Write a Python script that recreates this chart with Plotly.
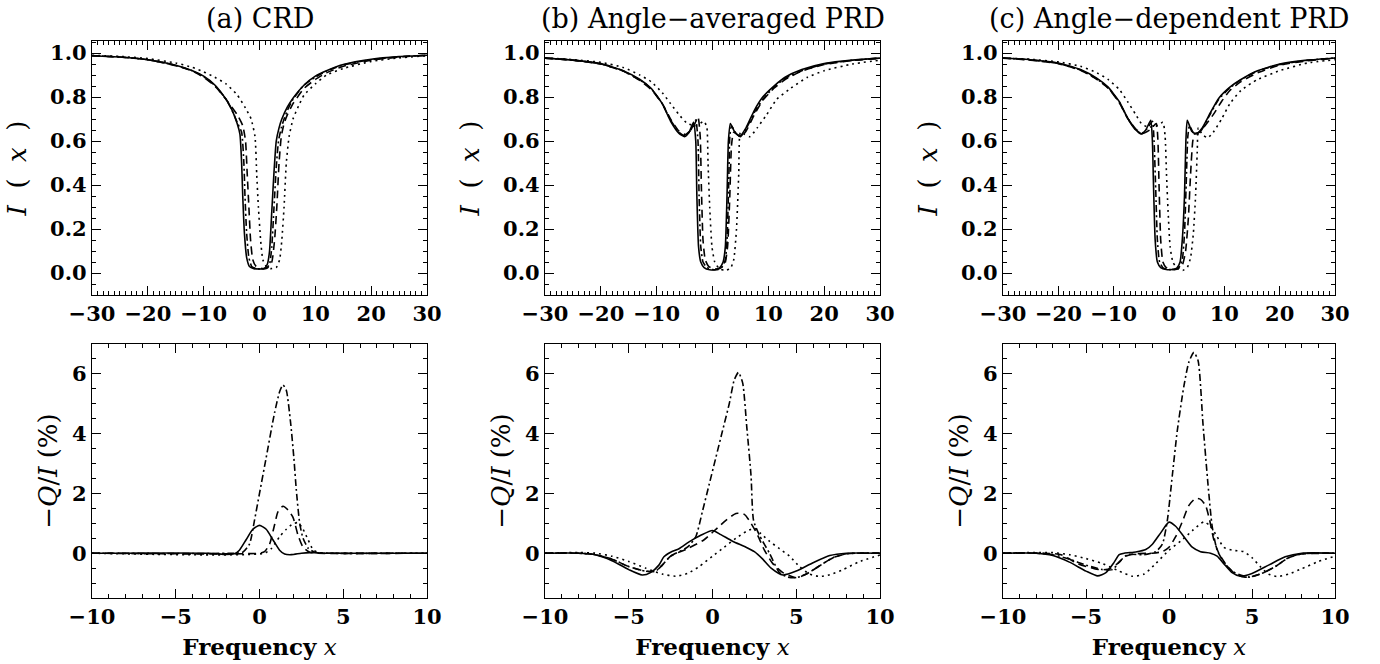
import plotly.graph_objects as go

# ---- panel titles / labels ----
PANEL_TITLES = ["(a) CRD", "(b) Angle\u2212averaged PRD", "(c) Angle\u2212dependent PRD"]

# ---- I(x) profiles, (x, I) pairs ----
CRD_I_SOLID = [(-30, 0.988), (-25, 0.982), (-20, 0.97), (-15, 0.945), (-12, 0.92), (-10, 0.895), (-8, 0.855),
               (-6, 0.79), (-5, 0.745), (-4, 0.68), (-3.5, 0.63), (-3.2, 0.5), (-3.0, 0.35), (-2.7, 0.18),
               (-2.3, 0.07), (-1.8, 0.03), (-1, 0.02), (0, 0.018), (0.8, 0.02), (1.4, 0.04), (1.8, 0.1),
               (2.2, 0.28), (2.6, 0.46), (3.0, 0.6), (3.5, 0.66), (4, 0.7), (5, 0.755), (6, 0.795), (8, 0.855),
               (10, 0.895), (12, 0.92), (15, 0.948), (20, 0.972), (25, 0.984), (30, 0.99)]
CRD_I_DASHDOT = [(-30, 0.988), (-25, 0.982), (-20, 0.97), (-15, 0.944), (-12, 0.919), (-10, 0.893), (-8, 0.853),
                 (-6, 0.79), (-5, 0.745), (-4, 0.685), (-3.2, 0.64), (-2.8, 0.5), (-2.6, 0.35), (-2.3, 0.18),
                 (-1.9, 0.07), (-1.4, 0.03), (-0.6, 0.02), (0.4, 0.018), (1.2, 0.02), (1.8, 0.04), (2.2, 0.12),
                 (2.6, 0.3), (3.0, 0.48), (3.4, 0.6), (3.9, 0.66), (4.4, 0.7), (5, 0.74), (6, 0.79), (8, 0.855),
                 (10, 0.89), (12, 0.918), (15, 0.946), (20, 0.97), (25, 0.983), (30, 0.99)]
CRD_I_DASHED = [(-30, 0.988), (-25, 0.982), (-20, 0.97), (-15, 0.943), (-12, 0.918), (-10, 0.89), (-8, 0.85),
                (-6, 0.79), (-4, 0.72), (-3, 0.67), (-2.5, 0.6), (-2.2, 0.45), (-1.9, 0.3), (-1.6, 0.15),
                (-1.2, 0.06), (-0.6, 0.03), (0.5, 0.02), (1.5, 0.025), (2.2, 0.05), (2.7, 0.15), (3.1, 0.3),
                (3.5, 0.5), (3.9, 0.62), (4.4, 0.68), (5, 0.72), (6, 0.77), (8, 0.84), (10, 0.88), (12, 0.91),
                (15, 0.94), (20, 0.968), (25, 0.982), (30, 0.99)]
CRD_I_DOTTED = [(-30, 0.99), (-25, 0.985), (-20, 0.975), (-15, 0.955), (-12, 0.935), (-10, 0.915), (-8, 0.89),
                (-6, 0.86), (-4, 0.81), (-2.5, 0.75), (-1.5, 0.7), (-0.8, 0.62), (-0.5, 0.45), (-0.2, 0.3),
                (0.2, 0.15), (0.6, 0.06), (1.2, 0.03), (2, 0.02), (3, 0.025), (3.6, 0.06), (4, 0.15), (4.4, 0.3),
                (4.8, 0.5), (5.3, 0.62), (6, 0.7), (7, 0.76), (8, 0.81), (10, 0.86), (12, 0.9), (15, 0.93),
                (20, 0.962), (25, 0.978), (30, 0.988)]

AA_I_SOLID = [(-30, 0.977), (-25, 0.968), (-20, 0.952), (-16, 0.92), (-13, 0.88), (-11, 0.84), (-9, 0.77),
              (-7.5, 0.69), (-6, 0.635), (-5, 0.62), (-4.2, 0.64), (-3.4, 0.685), (-3.0, 0.6), (-2.8, 0.35),
              (-2.5, 0.12), (-2.1, 0.05), (-1.5, 0.025), (-0.5, 0.015), (0.5, 0.015), (1.3, 0.025), (1.9, 0.05),
              (2.3, 0.12), (2.6, 0.35), (2.85, 0.6), (3.2, 0.68), (4, 0.64), (4.9, 0.622), (6, 0.66), (7.5, 0.74),
              (9, 0.8), (11, 0.85), (13, 0.89), (16, 0.925), (20, 0.952), (25, 0.968), (30, 0.977)]
AA_I_DASHDOT = [(-30, 0.977), (-25, 0.968), (-20, 0.951), (-16, 0.919), (-13, 0.878), (-11, 0.838), (-9, 0.77),
                (-7.5, 0.695), (-6, 0.64), (-5, 0.625), (-4, 0.645), (-3, 0.695), (-2.6, 0.6), (-2.4, 0.35),
                (-2.1, 0.12), (-1.7, 0.05), (-1, 0.025), (0, 0.016), (1, 0.016), (1.8, 0.03), (2.3, 0.06),
                (2.6, 0.15), (2.9, 0.4), (3.1, 0.62), (3.4, 0.67), (4.2, 0.635), (5, 0.62), (6, 0.655), (7.5, 0.73),
                (9, 0.79), (11, 0.845), (13, 0.885), (16, 0.92), (20, 0.95), (25, 0.967), (30, 0.977)]
AA_I_DASHED = [(-30, 0.977), (-25, 0.968), (-20, 0.95), (-16, 0.918), (-13, 0.875), (-11, 0.835), (-9, 0.77),
               (-7.5, 0.7), (-6, 0.645), (-4.8, 0.63), (-3.5, 0.66), (-2.6, 0.71), (-2.2, 0.62), (-2.0, 0.4),
               (-1.7, 0.15), (-1.3, 0.06), (-0.7, 0.03), (0.3, 0.018), (1.3, 0.02), (2.2, 0.04), (2.7, 0.12),
               (3.1, 0.35), (3.4, 0.58), (3.8, 0.64), (5, 0.62), (6, 0.645), (7.5, 0.72), (9, 0.785), (11, 0.84),
               (13, 0.88), (16, 0.918), (20, 0.948), (25, 0.966), (30, 0.976)]
AA_I_DOTTED = [(-30, 0.978), (-25, 0.97), (-20, 0.958), (-16, 0.935), (-13, 0.9), (-11, 0.87), (-9, 0.82),
               (-7.5, 0.77), (-6, 0.72), (-4.5, 0.68), (-3, 0.67), (-1.5, 0.69), (-1.0, 0.66), (-0.8, 0.5),
               (-0.5, 0.3), (-0.1, 0.12), (0.4, 0.05), (1.2, 0.02), (2.2, 0.012), (3.2, 0.02), (3.8, 0.06),
               (4.3, 0.2), (4.7, 0.45), (5.0, 0.64), (5.8, 0.63), (6.7, 0.62), (8, 0.66), (9.7, 0.72),
               (11.5, 0.79), (14, 0.84), (17, 0.89), (20, 0.92), (25, 0.95), (30, 0.968)]

AD_I_SOLID = [(-30, 0.978), (-25, 0.97), (-20, 0.955), (-16, 0.925), (-13, 0.885), (-11, 0.845), (-9, 0.78),
              (-7.5, 0.705), (-6, 0.65), (-5, 0.632), (-4.2, 0.65), (-3.3, 0.695), (-3.0, 0.6), (-2.8, 0.4),
              (-2.5, 0.15), (-2.1, 0.05), (-1.5, 0.025), (-0.5, 0.016), (0.5, 0.016), (1.4, 0.022), (2.0, 0.05),
              (2.4, 0.15), (2.8, 0.35), (3.05, 0.6), (3.3, 0.695), (4.1, 0.645), (4.9, 0.632), (6, 0.66),
              (7.5, 0.73), (9, 0.795), (11, 0.845), (13, 0.88), (16, 0.92), (20, 0.95), (25, 0.968), (30, 0.978)]
AD_I_DASHDOT = [(-30, 0.978), (-25, 0.969), (-20, 0.953), (-16, 0.923), (-13, 0.882), (-11, 0.842), (-9, 0.778),
                (-7.5, 0.705), (-6, 0.652), (-5, 0.633), (-4, 0.655), (-3.0, 0.69), (-2.7, 0.6), (-2.4, 0.38),
                (-2.1, 0.15), (-1.7, 0.05), (-1, 0.022), (0, 0.016), (1, 0.016), (1.8, 0.025), (2.4, 0.06),
                (2.8, 0.18), (3.1, 0.4), (3.4, 0.62), (3.7, 0.67), (4.4, 0.638), (5.2, 0.632), (6, 0.655),
                (7.5, 0.725), (9, 0.79), (11, 0.842), (13, 0.878), (16, 0.918), (20, 0.948), (25, 0.967), (30, 0.978)]
AD_I_DASHED = [(-30, 0.977), (-25, 0.968), (-20, 0.952), (-16, 0.922), (-13, 0.88), (-11, 0.84), (-9, 0.775),
               (-7.5, 0.705), (-6, 0.655), (-4.8, 0.635), (-3.5, 0.65), (-2.3, 0.68), (-2.0, 0.6), (-1.8, 0.4),
               (-1.5, 0.15), (-1.1, 0.05), (-0.5, 0.025), (0.5, 0.016), (1.5, 0.018), (2.4, 0.035), (3.0, 0.1),
               (3.5, 0.25), (3.9, 0.45), (4.3, 0.6), (4.7, 0.635), (5.5, 0.64), (6.5, 0.67), (8, 0.72),
               (9.5, 0.78), (11, 0.83), (13, 0.87), (16, 0.91), (20, 0.945), (25, 0.965), (30, 0.977)]
AD_I_DOTTED = [(-30, 0.978), (-25, 0.972), (-20, 0.96), (-16, 0.94), (-13, 0.91), (-11, 0.88), (-9, 0.835),
               (-7.5, 0.78), (-6, 0.72), (-5, 0.68), (-4, 0.665), (-2.5, 0.665), (-1.1, 0.685), (-0.7, 0.62),
               (-0.45, 0.45), (-0.2, 0.3), (0.2, 0.12), (0.7, 0.05), (1.5, 0.02), (2.5, 0.012), (3.3, 0.025),
               (3.9, 0.07), (4.4, 0.18), (4.8, 0.35), (5.1, 0.55), (5.3, 0.66), (6, 0.63), (7, 0.615), (8, 0.64),
               (9.5, 0.7), (11, 0.77), (13, 0.83), (16, 0.88), (20, 0.92), (25, 0.955), (30, 0.97)]

# ---- -Q/I (%) profiles, (x, value) pairs ----
CRD_Q_SOLID = [(-10, 0), (-3, 0), (-2, -0.04), (-1.5, -0.02), (-1.2, 0.1), (-0.8, 0.45), (-0.4, 0.8), (0, 0.93),
               (0.4, 0.8), (0.8, 0.45), (1.2, 0.1), (1.5, -0.03), (1.9, -0.05), (2.5, 0), (3, 0.02), (3.5, 0.01),
               (4, 0), (10, 0)]
CRD_Q_DASHDOT = [(-10, 0), (-1.5, 0), (-1.0, 0.03), (-0.6, 0.3), (-0.3, 1.1), (0, 2.0), (0.4, 3.2), (0.9, 4.7),
                 (1.2, 5.4), (1.4, 5.63), (1.6, 5.45), (1.85, 4.4), (2.05, 3.2), (2.2, 2.1), (2.4, 1.0),
                 (2.6, 0.5), (2.9, 0.17), (3.3, 0.03), (4, 0), (10, 0)]
CRD_Q_DASHED = [(-10, 0), (0, 0), (0.3, 0.05), (0.6, 0.3), (0.9, 0.95), (1.1, 1.38), (1.4, 1.57), (1.7, 1.45),
                (2.0, 1.2), (2.3, 0.6), (2.6, 0.2), (3, 0.03), (3.5, 0), (10, 0)]
CRD_Q_DOTTED = [(-10, 0), (0.3, 0), (0.7, 0.15), (1.2, 0.55), (1.6, 0.8), (2.0, 0.98), (2.3, 1.02), (2.6, 0.8),
                (2.9, 0.45), (3.2, 0.12), (3.5, 0.02), (4, 0), (10, 0)]

AA_Q_SOLID = [(-10, 0), (-8, 0), (-7, -0.05), (-6, -0.25), (-5, -0.55), (-4.2, -0.73), (-3.7, -0.65),
              (-3.2, -0.4), (-2.9, -0.12), (-2.5, 0.03), (-2, 0.15), (-1.4, 0.38), (-0.7, 0.6), (0, 0.76),
              (0.5, 0.62), (1.2, 0.4), (2, 0.2), (2.5, 0.05), (3, -0.2), (3.5, -0.5), (4.2, -0.73), (5, -0.6),
              (6, -0.32), (7, -0.08), (8, 0), (10, 0)]
AA_Q_DASHDOT = [(-10, 0), (-8, 0), (-7, -0.05), (-6, -0.2), (-5, -0.45), (-4, -0.6), (-3.4, -0.6), (-3, -0.4),
                (-2.5, -0.1), (-1.5, 0.2), (-1.0, 0.55), (-0.6, 1.4), (-0.2, 2.3), (0.2, 3.2), (0.6, 4.1),
                (1.0, 5.0), (1.3, 5.8), (1.55, 6.05), (1.8, 5.7), (2.05, 4.2), (2.3, 2.6), (2.45, 1.1),
                (2.8, 0.6), (3.4, 0.0), (4.0, -0.65), (4.5, -0.8), (5, -0.82), (5.6, -0.7), (6.4, -0.42),
                (7.2, -0.15), (8, -0.02), (10, 0)]
AA_Q_DASHED = [(-10, 0), (-8, 0), (-7, -0.05), (-6, -0.2), (-5, -0.45), (-4, -0.6), (-3.4, -0.6), (-3, -0.4),
               (-2.5, -0.1), (-1.5, 0.15), (-0.5, 0.45), (0.3, 0.85), (0.8, 1.1), (1.4, 1.33), (1.9, 1.3),
               (2.3, 1.0), (2.7, 0.6), (3.1, 0.1), (3.6, -0.35), (4.2, -0.65), (5, -0.82), (5.6, -0.7),
               (6.4, -0.42), (7.2, -0.15), (8, -0.02), (10, 0)]
AA_Q_DOTTED = [(-10, 0), (-8, 0.02), (-7, 0), (-6, -0.1), (-5, -0.28), (-4, -0.5), (-3, -0.7), (-2.2, -0.77),
               (-1.5, -0.68), (-0.8, -0.45), (0, -0.1), (0.7, 0.2), (1.4, 0.5), (2, 0.72), (2.5, 0.83),
               (2.9, 0.65), (3.4, 0.4), (4, 0.15), (4.6, -0.1), (5.2, -0.45), (5.8, -0.7), (6.4, -0.78),
               (7, -0.72), (7.8, -0.55), (8.7, -0.3), (10, -0.06)]

AD_Q_SOLID = [(-10, 0), (-8, 0), (-7, -0.08), (-6, -0.3), (-5, -0.6), (-4.3, -0.76), (-3.8, -0.65), (-3.3, -0.3),
              (-3.0, -0.05), (-2.7, 0.0), (-2, 0.04), (-1.4, 0.12), (-1, 0.3), (-0.5, 0.68), (0, 1.04),
              (0.4, 0.9), (0.9, 0.55), (1.4, 0.2), (1.9, 0.05), (2.5, 0.0), (2.9, -0.1), (3.3, -0.35),
              (3.8, -0.65), (4.3, -0.77), (5, -0.68), (6, -0.4), (7, -0.12), (8, 0), (10, 0)]
AD_Q_DASHDOT = [(-10, 0), (-8, 0), (-7, -0.05), (-6, -0.2), (-5, -0.4), (-4, -0.55), (-3.4, -0.55), (-3, -0.3),
                (-2.5, -0.05), (-1.5, -0.05), (-0.8, 0.05), (-0.4, 0.3), (-0.1, 1.1), (0.2, 2.6), (0.5, 4.1),
                (0.9, 5.6), (1.2, 6.4), (1.5, 6.72), (1.75, 6.45), (2.05, 4.3), (2.35, 2.3), (2.6, 0.9),
                (2.9, 0.1), (3.3, -0.3), (3.8, -0.6), (4.4, -0.75), (4.9, -0.8), (5.5, -0.7), (6.4, -0.45),
                (7.2, -0.15), (8, -0.02), (10, 0)]
AD_Q_DASHED = [(-10, 0), (-7.5, 0), (-6.5, -0.05), (-5.5, -0.35), (-4.5, -0.52), (-4, -0.56), (-3.5, -0.5),
               (-3.1, -0.35), (-2.6, -0.1), (-2, -0.02), (-1, 0.0), (-0.4, 0.05), (0, 0.2), (0.4, 0.55),
               (0.8, 1.05), (1.2, 1.6), (1.6, 1.83), (1.9, 1.8), (2.2, 1.6), (2.45, 1.1), (2.7, 0.45), (3, 0.0),
               (3.4, -0.35), (3.9, -0.65), (4.5, -0.8), (5, -0.78), (5.6, -0.68), (6.4, -0.45), (7.2, -0.15),
               (8, -0.03), (10, 0)]
AD_Q_DOTTED = [(-10, 0), (-7, 0.02), (-6, -0.05), (-5, -0.18), (-4, -0.35), (-3, -0.6), (-2.2, -0.77),
               (-1.5, -0.7), (-0.8, -0.35), (0, 0.1), (0.7, 0.4), (1.4, 0.75), (2.1, 1.05), (2.5, 0.9),
               (2.9, 0.55), (3.3, 0.2), (3.8, 0.1), (4.5, 0.05), (5, -0.15), (5.5, -0.45), (6, -0.7),
               (6.5, -0.78), (7.2, -0.7), (8, -0.52), (9, -0.28), (10, -0.1)]

TOP_CURVES = [
    [CRD_I_SOLID, CRD_I_DASHDOT, CRD_I_DASHED, CRD_I_DOTTED],
    [AA_I_SOLID, AA_I_DASHDOT, AA_I_DASHED, AA_I_DOTTED],
    [AD_I_SOLID, AD_I_DASHDOT, AD_I_DASHED, AD_I_DOTTED],
]
BOTTOM_CURVES = [
    [CRD_Q_SOLID, CRD_Q_DASHDOT, CRD_Q_DASHED, CRD_Q_DOTTED],
    [AA_Q_SOLID, AA_Q_DASHDOT, AA_Q_DASHED, AA_Q_DOTTED],
    [AD_Q_SOLID, AD_Q_DASHDOT, AD_Q_DASHED, AD_Q_DOTTED],
]
DASHES = ["solid", "7px,3px,2px,3px", "8px,5px", "2px,4px"]

W, H = 1380, 664
COL_PX = [(92, 427), (545, 880), (1003, 1335)]
TOP_PX = (41, 295)
BOT_PX = (344, 598)


def fx(px):
    return px / W


def fy(py):
    return 1 - py / H


FONT = "DejaVu Serif"

fig = go.Figure()


def axis_style(**kw):
    d = dict(
        showline=True, linecolor="black", linewidth=1.3, mirror="ticks",
        ticks="inside", ticklen=9, tickwidth=1.1, tickcolor="black",
        showgrid=False, zeroline=False, automargin=False,
        tickfont=dict(family=FONT, size=21, color="black", weight="bold"),
    )
    d.update(kw)
    return d


layout = {}
for c in range(3):
    x0, x1 = COL_PX[c]
    xdom = [fx(x0), fx(x1)]
    top_dom = [fy(TOP_PX[1]), fy(TOP_PX[0])]
    bot_dom = [fy(BOT_PX[1]), fy(BOT_PX[0])]

    ti = 2 * c + 1  # top axis index
    bi = 2 * c + 2  # bottom axis index
    sfx_t = "" if ti == 1 else str(ti)
    sfx_b = str(bi)

    layout["xaxis" + sfx_t] = axis_style(
        domain=xdom, anchor="y" + sfx_t, range=[-30, 30], tick0=-30, dtick=10,
        minor=dict(ticks="inside", dtick=1, ticklen=4, tickcolor="black", tickwidth=1),
    )
    layout["yaxis" + sfx_t] = axis_style(
        domain=top_dom, anchor="x" + sfx_t, range=[-0.1, 1.055], tick0=0, dtick=0.2, tickformat=".1f",
        minor=dict(ticks="inside", dtick=0.05, ticklen=4, tickcolor="black", tickwidth=1),
        title=dict(text="<i>I</i>  (  <i>x</i>  )", font=dict(family=FONT, size=26, color="black"), standoff=16),
    )
    layout["xaxis" + sfx_b] = axis_style(
        domain=xdom, anchor="y" + sfx_b, range=[-10, 10], tick0=-10, dtick=5,
        minor=dict(ticks="inside", dtick=1, ticklen=4, tickcolor="black", tickwidth=1),
        title=dict(text="<b>Frequency</b> <i>x</i>", font=dict(family=FONT, size=23, color="black"), standoff=10),
    )
    layout["yaxis" + sfx_b] = axis_style(
        domain=bot_dom, anchor="x" + sfx_b, range=[-1.5, 7], tick0=0, dtick=2,
        minor=dict(ticks="inside", dtick=0.5, tick0=0, ticklen=4, tickcolor="black", tickwidth=1),
        title=dict(text="\u2212<i>Q</i>/<i>I</i> (%)", font=dict(family=FONT, size=26, color="black"),
                   standoff=6),
    )

    for curve, dash in zip(TOP_CURVES[c], DASHES):
        fig.add_trace(go.Scatter(
            x=[p[0] for p in curve], y=[p[1] for p in curve],
            mode="lines", line=dict(color="black", width=1.6, dash=dash, shape="spline", smoothing=0.5),
            xaxis="x" + sfx_t, yaxis="y" + sfx_t, showlegend=False, hoverinfo="skip",
        ))
    for curve, dash in zip(BOTTOM_CURVES[c], DASHES):
        fig.add_trace(go.Scatter(
            x=[p[0] for p in curve], y=[p[1] for p in curve],
            mode="lines", line=dict(color="black", width=1.6, dash=dash, shape="spline", smoothing=0.6),
            xaxis="x" + sfx_b, yaxis="y" + sfx_b, showlegend=False, hoverinfo="skip",
        ))

annotations = []
for c in range(3):
    x0, x1 = COL_PX[c]
    annotations.append(dict(
        text=PANEL_TITLES[c], x=fx((x0 + x1) / 2), y=fy(18), xref="paper", yref="paper",
        xanchor="center", yanchor="middle", showarrow=False,
        font=dict(family=FONT, size=27, color="black"),
    ))

fig.update_layout(
    **layout,
    annotations=annotations,
    width=W, height=H,
    margin=dict(l=0, r=0, t=0, b=0),
    paper_bgcolor="white",
    plot_bgcolor="white",
    showlegend=False,
)

# drop the default 8px body margin so the figure fills the window exactly
fig.write_html(
    "out.html",
    config={"displayModeBar": False},
    post_script="document.body.style.margin='0';",
)
